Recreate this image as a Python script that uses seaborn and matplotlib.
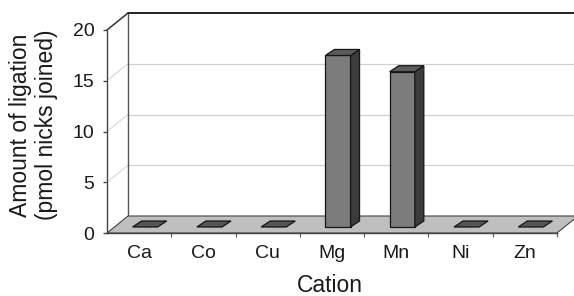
import matplotlib
matplotlib.use("Agg")
import matplotlib.pyplot as plt
import seaborn as sns
import pandas as pd
from matplotlib.transforms import Affine2D, IdentityTransform
from matplotlib.patches import Polygon
from matplotlib.lines import Line2D

# ---- data ----
cations = ["Ca", "Co", "Cu", "Mg", "Mn", "Ni", "Zn"]
ligation = [0, 0, 0, 16.9, 15.3, 0, 0]
y_ticks = [0, 5, 10, 15, 20]
grid_levels = [5, 10, 15]

sns.set_theme(style="white")
plt.rcParams['font.family'] = ['Liberation Sans', 'DejaVu Sans']

W, H = 574, 296
fig = plt.figure(figsize=(W / 100, H / 100), dpi=100)
L, R, T, B = 107, 557, 30, 233
ax = fig.add_axes([L / W, (H - B) / H, (R - L) / W, (B - T) / H])
ax.set_facecolor("none")

df = pd.DataFrame({"Cation": cations, "Ligation": ligation})
sns.barplot(data=df, x="Cation", y="Ligation", ax=ax, width=0.39,
            color="#7c7c7c", saturation=1, edgecolor="#151515",
            linewidth=0.9, zorder=4)
ax.set_xlim(-0.5, len(cations) - 0.5)
ax.set_ylim(y_ticks[0], y_ticks[-1])
ax.set_autoscale_on(False)

# depth offsets (display pixels)
DX, DY = 21, 17          # full depth of floor / walls
FX, FY = 6, 6            # bar front-face offset
BX, BY = 15, 12          # bar back-face offset

def D(x, y, ox=0, oy=0):
    p = ax.transData.transform((x, y))
    return (p[0] + ox, p[1] + oy)

ident = IdentityTransform()
x0, x1 = -0.5, len(cations) - 0.5
ytop = y_ticks[-1]

def poly(pts, fc, ec, lw, z):
    ax.add_patch(Polygon(pts, closed=True, facecolor=fc, edgecolor=ec,
                         linewidth=lw, transform=ident, clip_on=False,
                         zorder=z))

def line(p, q, c, lw, z):
    ax.add_line(Line2D([p[0], q[0]], [p[1], q[1]], color=c, linewidth=lw,
                       transform=ident, clip_on=False, zorder=z))

# back wall & side wall
poly([D(x0, 0, DX, DY), D(x1, 0, DX, DY), D(x1, ytop, DX, DY), D(x0, ytop, DX, DY)],
     "white", "none", 0, 0.5)
poly([D(x0, 0), D(x0, ytop), D(x0, ytop, DX, DY), D(x0, 0, DX, DY)],
     "white", "none", 0, 0.5)
for g in grid_levels:
    line(D(x0, g, DX, DY), D(x1, g, DX, DY), "#d0d0d0", 0.9, 1)
    line(D(x0, g), D(x0, g, DX, DY), "#d8d8d8", 0.8, 1)
line(D(x0, 0, DX, DY), D(x0, ytop, DX, DY), "#555555", 1.0, 1.2)
line(D(x0, ytop, DX, DY), D(x1, ytop, DX, DY), "#111111", 1.3, 1.2)
line(D(x0, ytop), D(x0, ytop, DX, DY), "#333333", 1.1, 1.2)

# floor
poly([D(x0, 0), D(x1, 0), D(x1, 0, DX, DY), D(x0, 0, DX, DY)],
     "#bfbfbf", "#444444", 0.8, 2)

# 3D bars built on seaborn's bars
bars = list(ax.patches)
for bar in bars:
    if not hasattr(bar, "get_width"):
        continue
    bx0 = bar.get_x()
    bx1 = bx0 + bar.get_width()
    h = bar.get_y() + bar.get_height()
    bar.set_transform(ax.transData + Affine2D().translate(FX, FY))
    bar.set_clip_on(False)
    if h > 0:
        poly([D(bx1, 0, FX, FY), D(bx1, h, FX, FY), D(bx1, h, BX, BY), D(bx1, 0, BX, BY)],
             "#3c3c3c", "#151515", 0.9, 4.1)
        poly([D(bx0, h, FX, FY), D(bx1, h, FX, FY), D(bx1, h, BX, BY), D(bx0, h, BX, BY)],
             "#5c5c5c", "#151515", 0.9, 4.2)
    else:
        bar.set_visible(False)
        poly([D(bx0, h, FX, FY), D(bx1, h, FX, FY), D(bx1, h, BX, BY), D(bx0, h, BX, BY)],
             "#555555", "#151515", 0.9, 4.2)

# axes styling
for s in ["top", "right"]:
    ax.spines[s].set_visible(False)
for s in ["left", "bottom"]:
    ax.spines[s].set_color("#444444")
    ax.spines[s].set_linewidth(1.0)
    ax.spines[s].set_zorder(3)

ax.set_yticks(y_ticks)
ax.set_yticklabels([str(v) for v in y_ticks])
ax.set_xticks(range(len(cations)))
ax.set_xticklabels(cations)
ax.set_xticks([i + 0.5 for i in range(len(cations))], minor=True)
ax.tick_params(axis="y", which="major", left=True, length=3, width=1,
               color="#444444", pad=6, labelsize=14, labelcolor="#1a1a1a")
ax.tick_params(axis="x", which="major", bottom=False, length=0, pad=8.5,
               labelsize=14, labelcolor="#1a1a1a")
ax.tick_params(axis="x", which="minor", bottom=True, length=3, width=0.9,
               color="#666666")
ax.grid(False)

ax.set_ylabel("Amount of ligation\n(pmol nicks joined)", fontsize=16.5,
              color="#1a1a1a", linespacing=1.15)
ax.yaxis.label.set_va("center")
ax.yaxis.set_label_coords((33.5 - L) / (R - L), (B - 125) / (B - T))
ax.set_xlabel("Cation", fontsize=16.5, color="#1a1a1a")
ax.xaxis.label.set_va("center")
ax.xaxis.set_label_coords((330 - L) / (R - L), (B - 285) / (B - T))

fig.savefig("out.png", dpi=100)
